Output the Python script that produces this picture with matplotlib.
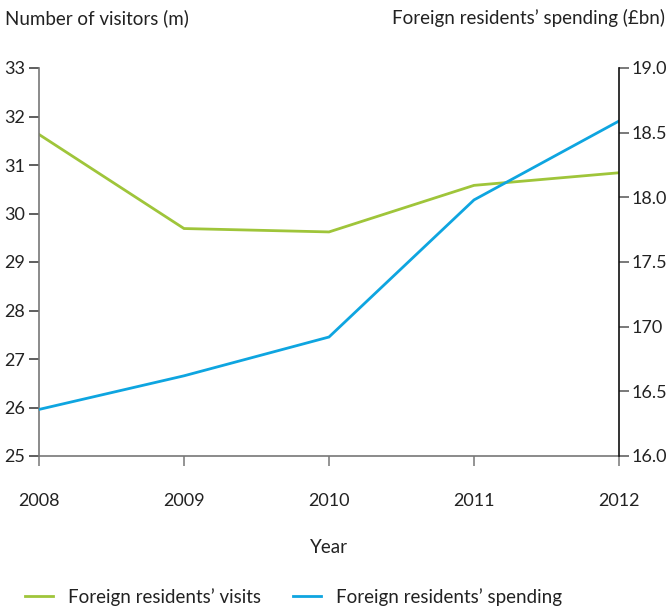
import matplotlib
matplotlib.use("Agg")
import matplotlib.pyplot as plt

plt.rcParams['font.family'] = ['Lato', 'DejaVu Sans']

years = [2008, 2009, 2010, 2011, 2012]
visits = [31.63, 29.69, 29.62, 30.58, 30.84]
spending = [16.36, 16.62, 16.92, 17.98, 18.59]
left_ticks = [25, 26, 27, 28, 29, 30, 31, 32, 33]
right_ticks = [16.0, 16.5, 17.0, 17.5, 18.0, 18.5, 19.0]
right_labels = ["16.0", "16.5", "170", "17.5", "18.0", "18.5", "19.0"]

green = "#9fc53a"
blue = "#0ea5e0"
txt = "#222222"
fs = 13.5
tfs = 13

fig = plt.figure(figsize=(6.70, 6.07), dpi=100)
ax = fig.add_axes([39/670, 1-456/607, (619-39)/670, (456-68)/607])
ax2 = ax.twinx()

l1, = ax.plot(years, visits, color=green, lw=2.0, solid_joinstyle='miter')
l2, = ax2.plot(years, spending, color=blue, lw=2.0, solid_joinstyle='miter')

ax.set_xlim(2008, 2012)
ax.set_ylim(25, 33)
ax2.set_ylim(16, 19)
ax.set_xticks(years)
ax.set_xticklabels([str(y) for y in years])
ax.set_yticks(left_ticks)
ax2.set_yticks(right_ticks)
ax2.set_yticklabels(right_labels)

for a in (ax, ax2):
    a.spines['top'].set_visible(False)
ax.spines['right'].set_visible(False)
ax2.spines['left'].set_visible(False)
ax2.spines['bottom'].set_visible(False)
ax.spines['left'].set_color('#777777')
ax.spines['bottom'].set_color('#777777')
ax2.spines['right'].set_color('#111111')
for a in (ax, ax2):
    for s in a.spines.values():
        s.set_linewidth(1.2)

ax.tick_params(axis='y', direction='out', length=7, width=1.1, color='#333333',
               labelsize=tfs, labelcolor=txt, pad=3)
ax.tick_params(axis='x', direction='out', length=7, width=1.1, color='#777777',
               labelsize=tfs, labelcolor=txt, pad=20)
ax2.tick_params(axis='y', direction='out', length=7, width=1.1, color='#555555',
                labelsize=tfs, labelcolor=txt, pad=2)

ax.set_xlabel("Year", fontsize=fs, color=txt, labelpad=21)

fig.text(5/670, 1-18/607, "Number of visitors (m)", fontsize=fs, color=txt,
         ha='left', va='center')
fig.text(665/670, 1-18/607, "Foreign residents\u2019 spending (\u00a3bn)", fontsize=fs,
         color=txt, ha='right', va='center')

fig.legend([l1, l2], ["Foreign residents\u2019 visits", "Foreign residents\u2019 spending"],
           loc='center left', bbox_to_anchor=(8/670, 1-597/607), ncol=2,
           frameon=False, fontsize=fs, handlelength=1.5, columnspacing=1.7,
           handletextpad=0.8, labelcolor=txt)

fig.savefig("out.png", dpi=100)
